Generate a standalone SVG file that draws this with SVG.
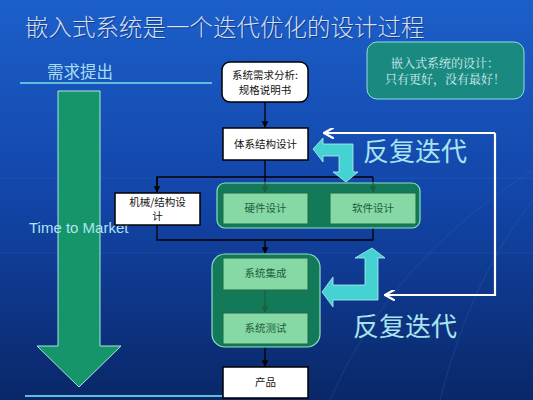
<svg xmlns="http://www.w3.org/2000/svg" width="533" height="400" viewBox="0 0 533 400">
<defs>
<linearGradient id="bg" x1="0" y1="0" x2="0" y2="1">
<stop offset="0" stop-color="#1c5fca"/>
<stop offset="0.5" stop-color="#1245a8"/>
<stop offset="1" stop-color="#0a2768"/>
</linearGradient>
<marker id="ah" viewBox="0 0 10 10" refX="9" refY="5" markerWidth="5" markerHeight="5" orient="auto"><path d="M0,0 L10,5 L0,10 z" fill="#000"/></marker>
<marker id="ahg" viewBox="0 0 10 10" refX="9" refY="5" markerWidth="5" markerHeight="5" orient="auto"><path d="M0,0 L10,5 L0,10 z" fill="#1d5e3c"/></marker>
<marker id="ahw" viewBox="0 0 10 10" refX="8" refY="5" markerWidth="5" markerHeight="5" orient="auto"><path d="M0,0 L9,5 L0,10" fill="none" stroke="#fff" stroke-width="2"/></marker>
</defs>
<style>
.box{fill:#fff;stroke:#000;stroke-width:1.5}
.gbox{fill:#86d8a4;stroke:#1f6a45;stroke-width:1}
.grp{fill:#127a58;stroke:#8fe0c0;stroke-width:1.2}
.t{font-family:"Noto Sans CJK SC","Noto Sans",sans-serif;font-size:10.5px;text-anchor:middle;fill:#111}
.gt{font-family:"Noto Sans CJK SC","Noto Sans",sans-serif;font-size:10.5px;text-anchor:middle;fill:#1d5e3c}
.big{font-family:"Noto Sans CJK SC",sans-serif;font-size:26px;fill:#a8e4f0}
.ln{stroke:#000;stroke-width:1.3;fill:none}
.cy{fill:#45d2d2;stroke:#b8f0f0;stroke-width:0.8}
</style>
<rect width="533" height="400" fill="url(#bg)"/>
<g stroke="#4a7cd0" stroke-width="0.6" opacity="0.35" fill="none">
<line x1="0" y1="178" x2="533" y2="178"/>
<line x1="0" y1="253" x2="533" y2="253"/>
<path d="M440,400 Q470,280 533,200"/>
<path d="M330,400 Q390,260 533,170"/>
</g>
<text x="26" y="37" font-family="'Noto Sans CJK SC',serif" font-size="23.5" font-weight="300" fill="#0a2a6a" opacity="0.6">嵌入式系统是一个迭代优化的设计过程</text>
<text x="25" y="36" font-family="'Noto Sans CJK SC',serif" font-size="23.5" font-weight="300" fill="#d6dff0">嵌入式系统是一个迭代优化的设计过程</text>
<g id="note">
<rect x="367" y="42" width="157" height="57" rx="10" fill="#1a8a80" stroke="#8fe0d8" stroke-width="1"/>
<text x="445" y="68" font-family="'Noto Serif CJK SC','Noto Sans CJK SC',serif" font-size="12" text-anchor="middle" fill="#d8eef0">嵌入式系统的设计：</text>
<text x="445" y="84" font-family="'Noto Serif CJK SC','Noto Sans CJK SC',serif" font-size="12" text-anchor="middle" fill="#d8eef0">只有更好，没有最好！</text>
</g>
<text x="47" y="78" font-family="'Noto Sans CJK SC',sans-serif" font-size="16.5" fill="#a8dcf0">需求提出</text>
<line x1="20" y1="83" x2="212" y2="83" stroke="#5cc0dc" stroke-width="2"/>
<line x1="25" y1="396" x2="222" y2="396" stroke="#5cc0dc" stroke-width="2"/>
<g id="timearrow">
<path d="M58,91 L100,91 L100,346 L121,346 L79,387 L37,346 L58,346 Z" fill="#16946a" stroke="#a8e8e0" stroke-width="1"/>
</g>
<text x="29" y="233" font-family="'Liberation Sans',sans-serif" font-size="15" fill="#b0e4f4">Time to Market</text>
<g id="connectors">
<line class="ln" x1="265" y1="102" x2="265" y2="127" marker-end="url(#ah)"/>
<line class="ln" x1="265" y1="160" x2="265" y2="177"/>
<polyline class="ln" points="157,192 157,177 373,177"/>
<line class="ln" x1="157" y1="177" x2="157" y2="192" marker-end="url(#ah)"/>
<line class="ln" x1="265" y1="177" x2="265" y2="183"/>
<line class="ln" x1="373" y1="177" x2="373" y2="183"/>
<polyline class="ln" points="157,225 157,240 373,240 373,228"/>
<line class="ln" x1="265" y1="240" x2="265" y2="253" marker-end="url(#ah)"/>
<line class="ln" x1="265" y1="347" x2="265" y2="366" marker-end="url(#ah)"/>
<polyline points="495,133 495,295 386,295" fill="none" stroke="#fff" stroke-width="2.2" marker-end="url(#ahw)"/>
<polyline points="495,133 325,133" fill="none" stroke="#fff" stroke-width="2.2" marker-end="url(#ahw)"/>
</g>
<g id="node-req">
<rect class="box" x="222" y="62" width="86" height="40" rx="8" stroke-width="2"/>
<text class="t" x="265" y="79">系统需求分析:</text>
<text class="t" x="265" y="94">规格说明书</text>
</g>
<g id="node-arch">
<rect class="box" x="223" y="128" width="85" height="32"/>
<text class="t" x="265.500" y="148">体系结构设计</text>
</g>
<g id="node-mech">
<rect class="box" x="115" y="193" width="85" height="32"/>
<text class="t" x="157.500" y="206">机械/结构设</text>
<text class="t" x="157.500" y="220">计</text>
</g>
<g id="group-hwsw">
<rect class="grp" x="217" y="183" width="203" height="45" rx="8"/>
<line x1="265" y1="183" x2="265" y2="192" stroke="#1d5e3c" stroke-width="1.3" marker-end="url(#ahg)"/>
<line x1="373" y1="183" x2="373" y2="192" stroke="#1d5e3c" stroke-width="1.3" marker-end="url(#ahg)"/>
</g>
<g id="node-hw">
<rect class="gbox" x="223" y="193" width="85" height="31"/>
<text class="gt" x="265.500" y="212">硬件设计</text>
</g>
<g id="node-sw">
<rect class="gbox" x="330" y="193" width="86" height="31"/>
<text class="gt" x="373" y="212">软件设计</text>
</g>
<g id="group-int">
<rect class="grp" x="212" y="254" width="108" height="93" rx="13"/>
<line x1="265" y1="290" x2="265" y2="312" stroke="#1d5e3c" stroke-width="1.3" marker-end="url(#ahg)"/>
</g>
<g id="node-int">
<rect class="gbox" x="223" y="258" width="85" height="32"/>
<text class="gt" x="265.500" y="277">系统集成</text>
</g>
<g id="node-test">
<rect class="gbox" x="223" y="313" width="85" height="31"/>
<text class="gt" x="265.500" y="332">系统测试</text>
</g>
<g id="node-prod">
<rect class="box" x="223" y="367" width="85" height="31"/>
<text class="t" x="265.500" y="386">产品</text>
</g>
<g id="iter-top">
<path class="cy" d="M313,149 L323,138 L323,144 L353,144 L353,172 L358,172 L346,182 L333,172 L339,172 L339,156 L323,156 L323,162 Z"/>
<text class="big" x="363" y="161">反复迭代</text>
</g>
<g id="iter-bottom">
<path class="cy" d="M322,292 L333,277 L333,285 L365,285 L365,258 L355,258 L372,248 L385,258 L378,258 L378,300 L333,300 L333,307 Z"/>
<text class="big" x="353" y="336">反复迭代</text>
</g>
</svg>
